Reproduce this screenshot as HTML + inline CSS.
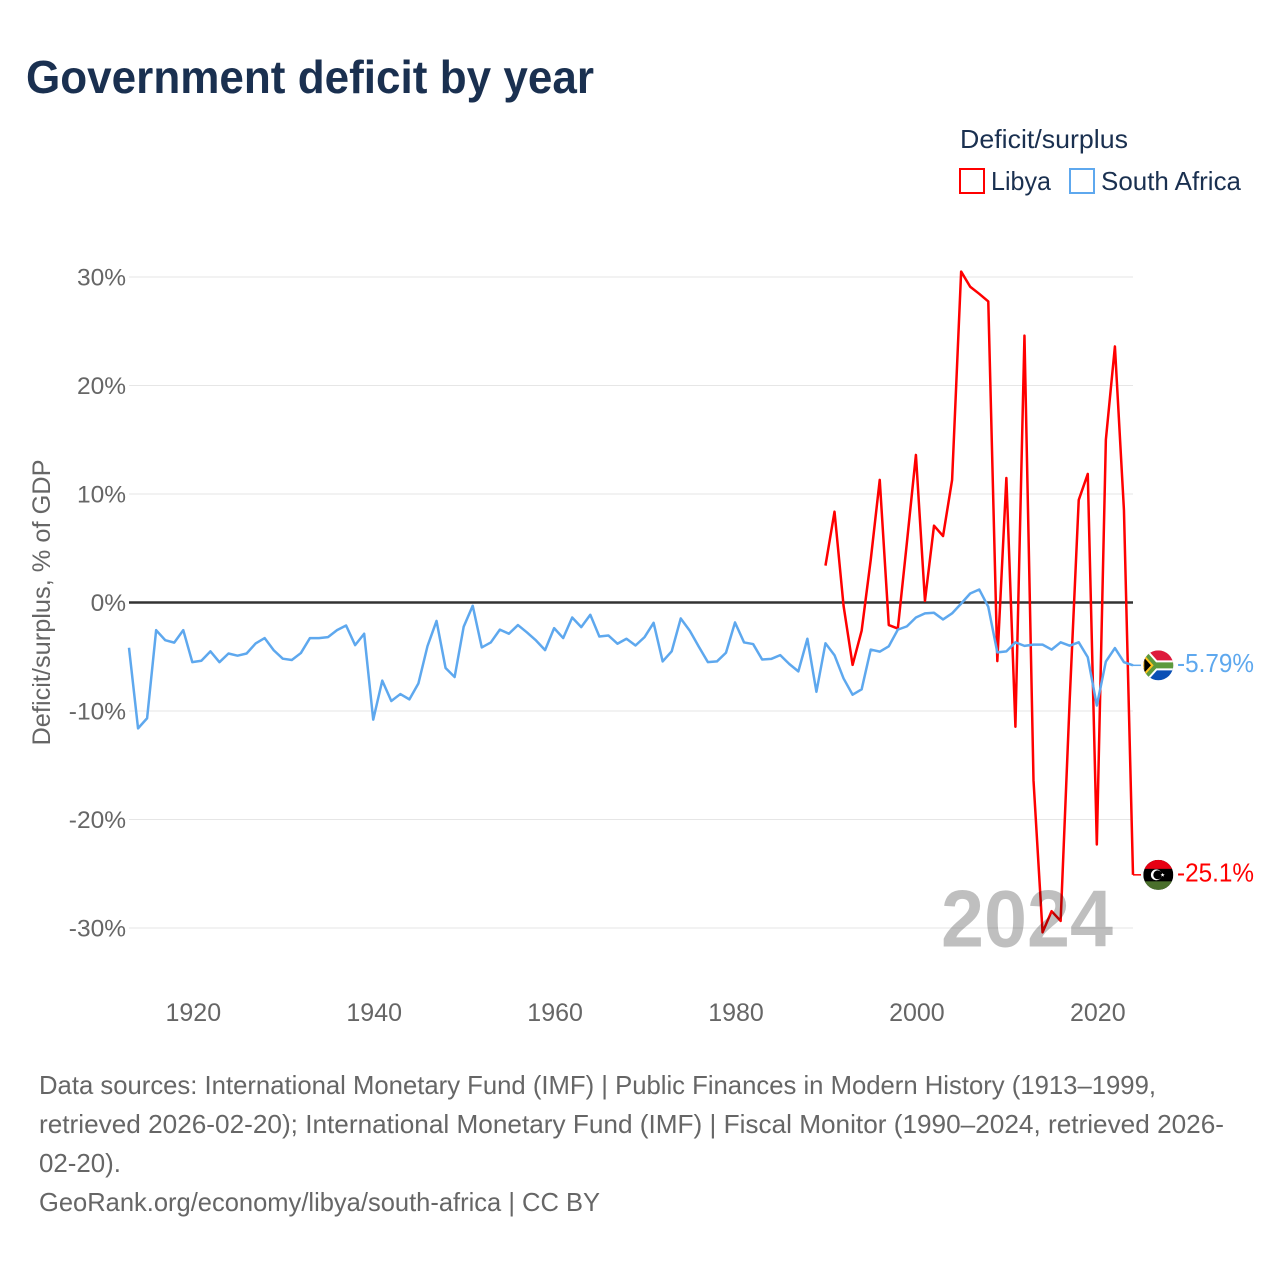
<!DOCTYPE html>
<html lang="en">
<head>
<meta charset="utf-8">
<title>Government deficit by year</title>
<style>
html,body{margin:0;padding:0;background:#fff}
svg{display:block}
text{font-family:"Liberation Sans",sans-serif}
</style>
</head>
<body>
<svg id="chart" xmlns="http://www.w3.org/2000/svg" width="1280" height="1280" viewBox="0 0 1280 1280">
  <defs>
    <clipPath id="flag-clip"><circle cx="0" cy="0" r="15"></circle></clipPath>
  </defs>
  <rect x="0" y="0" width="1280" height="1280" fill="#fff"></rect>
  <text x="26" y="93" font-size="46" font-weight="700" fill="#1a3050" textLength="568" lengthAdjust="spacingAndGlyphs">Government deficit by year</text>

  <g>
    <text x="960" y="148" font-size="26" fill="#1a3050" textLength="168" lengthAdjust="spacingAndGlyphs">Deficit/surplus</text>
    <g>
      <rect x="960" y="169" width="24" height="24" fill="none" stroke="#ff0000" stroke-width="2"></rect>
      <text x="991" y="190" font-size="26" fill="#1a3050" textLength="60" lengthAdjust="spacingAndGlyphs">Libya</text>
    </g>
    <g>
      <rect x="1070" y="169" width="24" height="24" fill="none" stroke="#5ea8ee" stroke-width="2"></rect>
      <text x="1101" y="190" font-size="26" fill="#1a3050" textLength="140" lengthAdjust="spacingAndGlyphs">South Africa</text>
    </g>
  </g>

  <g id="grid"></g>
  <g id="yticks"></g>
  <g id="xticks"></g>
  <text transform="translate(50,602.5) rotate(-90)" text-anchor="middle" font-size="25" fill="#666" textLength="286" lengthAdjust="spacingAndGlyphs">Deficit/surplus, % of GDP</text>

  <g id="series"></g>
  <g id="endmarks"></g>

  <text x="941" y="946.5" font-size="81" font-weight="700" fill="#000" fill-opacity="0.25" textLength="172" lengthAdjust="spacingAndGlyphs">2024</text>

  <g font-size="26" fill="#666">
    <text x="39" y="1094" textLength="1117" lengthAdjust="spacingAndGlyphs">Data sources: International Monetary Fund (IMF) | Public Finances in Modern History (1913–1999,</text>
    <text x="39" y="1133" textLength="1185" lengthAdjust="spacingAndGlyphs">retrieved 2026-02-20); International Monetary Fund (IMF) | Fiscal Monitor (1990–2024, retrieved 2026-</text>
    <text x="39" y="1172" textLength="82" lengthAdjust="spacingAndGlyphs">02-20).</text>
    <text x="39" y="1211" textLength="561" lengthAdjust="spacingAndGlyphs">GeoRank.org/economy/libya/south-africa | CC BY</text>
  </g>
</svg>
<script>
const yTickValues = [30, 20, 10, 0, -10, -20, -30];
const yTickLabels = ['30%', '20%', '10%', '0%', '-10%', '-20%', '-30%'];
const xTickYears = [1920, 1940, 1960, 1980, 2000, 2020];
const xTickLabels = ['1920', '1940', '1960', '1980', '2000', '2020'];

const southAfricaStartYear = 1913;
const southAfricaValues = [
  -4.17, -11.6, -10.67, -2.55, -3.47, -3.7, -2.55, -5.5, -5.37, -4.5,
  -5.5, -4.7, -4.9, -4.7, -3.77, -3.28, -4.4, -5.18, -5.3, -4.66,
  -3.28, -3.28, -3.19, -2.55, -2.12, -3.93, -2.88, -10.8, -7.2, -9.08,
  -8.44, -8.93, -7.45, -4.02, -1.7, -6.04, -6.87, -2.24, -0.3, -4.14,
  -3.68, -2.5, -2.88, -2.08, -2.76, -3.5, -4.39, -2.36, -3.28, -1.38,
  -2.27, -1.13, -3.13, -3.04, -3.8, -3.34, -3.96, -3.19, -1.87, -5.43,
  -4.5, -1.47, -2.6, -4.08, -5.5, -5.43, -4.63, -1.84, -3.68, -3.83,
  -5.25, -5.2, -4.85, -5.67, -6.35, -3.34, -8.23, -3.76, -4.86, -7.0,
  -8.5, -8.0, -4.34, -4.53, -4.04, -2.5, -2.2, -1.38, -1.0, -0.95,
  -1.56, -1.0, -0.1, 0.83, 1.2, -0.4, -4.6, -4.5, -3.67, -4.0,
  -3.88, -3.88, -4.34, -3.67, -3.98, -3.67, -5.05, -9.5, -5.44, -4.2,
  -5.5, -5.79
];

const libyaStartYear = 1990;
const libyaValues = [
  3.4, 8.37, -0.3, -5.75, -2.6, 3.9, 11.3, -2.08, -2.4, 5.5,
  13.6, 0.15, 7.08, 6.12, 11.3, 30.5, 29.1, 28.45, 27.75, -5.4,
  11.48, -11.45, 24.6, -16.4, -30.4, -28.45, -29.35, -9, 9.45, 11.85,
  -22.3, 15, 23.6, 8.5, -25.1
];

const libyaEndLabel = '-25.1%';
const southAfricaEndLabel = '-5.79%';

const NS = 'http://www.w3.org/2000/svg';
const X_AT_1913 = 129;
const PX_PER_YEAR = 1004 / 111;
const Y_AT_ZERO = 602.5;
const PX_PER_POINT = 10.85;
const X_LEFT = 129;
const X_RIGHT = 1133;
const FLAG_X = 1158.3;
const CONNECTOR_X = 1141;
const LABEL_X = 1177;

function xScale(year) { return X_AT_1913 + (year - 1913) * PX_PER_YEAR; }
function yScale(value) { return Y_AT_ZERO - value * PX_PER_POINT; }

function make(tag, attrs, parent) {
  const el = document.createElementNS(NS, tag);
  for (const k in attrs) el.setAttribute(k, attrs[k]);
  if (parent) parent.appendChild(el);
  return el;
}

const gridGroup = document.getElementById('grid');
const yTickGroup = document.getElementById('yticks');
const xTickGroup = document.getElementById('xticks');
const seriesGroup = document.getElementById('series');
const endGroup = document.getElementById('endmarks');

yTickValues.forEach(function (v, i) {
  const y = yScale(v);
  if (v !== 0) {
    const line = make('line', { x1: X_LEFT, x2: X_RIGHT, y1: y, y2: y, stroke: '#e6e6e6', 'stroke-width': 1 }, gridGroup);
    
    
  }
  const label = make('text', { x: 126, y: y + 8.5, 'text-anchor': 'end', 'font-size': 24.5, fill: '#666' }, yTickGroup);
  label.textContent = yTickLabels[i];
  
  
});

xTickYears.forEach(function (yr, i) {
  const label = make('text', { x: xScale(yr) + 1, y: 1021, 'text-anchor': 'middle', 'font-size': 25, fill: '#666' }, xTickGroup);
  label.textContent = xTickLabels[i];
  
  
});

function seriesPoints(startYear, values) {
  return values.map(function (v, i) {
    return xScale(startYear + i).toFixed(2) + ',' + yScale(v).toFixed(2);
  }).join(' ');
}

function drawSeries(startYear, values, color, name) {
  const line = make('polyline', {
    points: seriesPoints(startYear, values),
    fill: 'none', stroke: color, 'stroke-width': 2.5, 'stroke-linejoin': 'round'
  }, seriesGroup);
  
  
  const lastY = yScale(values[values.length - 1]);
  const lastX = xScale(startYear + values.length - 1);
  const connector = make('line', { x1: lastX, x2: CONNECTOR_X, y1: lastY, y2: lastY, stroke: color, 'stroke-width': 1.5 }, seriesGroup);
  
  
  return lastY;
}

function drawLibyaFlag(y) {
  const g = make('g', { transform: 'translate(' + FLAG_X + ',' + y + ')', 'clip-path': 'url(#flag-clip)' }, endGroup);
  
  
  make('rect', { x: -15, y: -15, width: 30, height: 30, fill: '#000' }, g);
  make('rect', { x: -15, y: -15, width: 30, height: 9, fill: '#e70013' }, g);
  make('rect', { x: -15, y: 6.5, width: 30, height: 8.5, fill: '#4a6f2c' }, g);
  make('circle', { cx: -2, cy: 0, r: 5.4, fill: '#fff' }, g);
  make('circle', { cx: -0.6, cy: 0, r: 4.4, fill: '#000' }, g);
  make('polygon', { points: '4.3,-2 4.9,-0.6 6.4,-0.6 5.2,0.4 5.6,1.8 4.3,1 3,1.8 3.4,0.4 2.2,-0.6 3.7,-0.6', fill: '#fff' }, g);
}

function drawSouthAfricaFlag(y) {
  const g = make('g', { transform: 'translate(' + FLAG_X + ',' + y + ')', 'clip-path': 'url(#flag-clip)' }, endGroup);
  
  
  make('rect', { x: -15, y: -15, width: 30, height: 15, fill: '#de1a3c' }, g);
  make('rect', { x: -15, y: 0, width: 30, height: 15, fill: '#0a4fb5' }, g);
  make('polyline', { points: '-16,-14 -3.5,0 16,0 -3.5,0 -16,14', fill: 'none', stroke: '#fff', 'stroke-width': 10 }, g);
  make('polyline', { points: '-16,-14 -3.5,0 16,0 -3.5,0 -16,14', fill: 'none', stroke: '#5d9a3c', 'stroke-width': 6 }, g);
  make('polygon', { points: '-15,-10 -6,0 -15,10', fill: '#000', stroke: '#ffc21c', 'stroke-width': 2 }, g);
}

function drawEndLabel(y, text, color, name) {
  const label = make('text', { x: LABEL_X, y: y + 6.5, 'font-size': 26, fill: color, textLength: 77, lengthAdjust: 'spacingAndGlyphs' }, endGroup);
  label.textContent = text;
  
  
}

const zeroLine = make('line', { x1: X_LEFT, x2: X_RIGHT, y1: yScale(0), y2: yScale(0), stroke: '#333', 'stroke-width': 2.5 }, gridGroup);



const libyaLastY = drawSeries(libyaStartYear, libyaValues, '#ff0000', 'libya-line');
const southAfricaLastY = drawSeries(southAfricaStartYear, southAfricaValues, '#5ea8ee', 'south-africa-line');

drawSouthAfricaFlag(southAfricaLastY);
drawLibyaFlag(libyaLastY);
drawEndLabel(southAfricaLastY, southAfricaEndLabel, '#5ea8ee', 'south-africa-end-label');
drawEndLabel(libyaLastY, libyaEndLabel, '#ff0000', 'libya-end-label');
</script>
</body>
</html>
